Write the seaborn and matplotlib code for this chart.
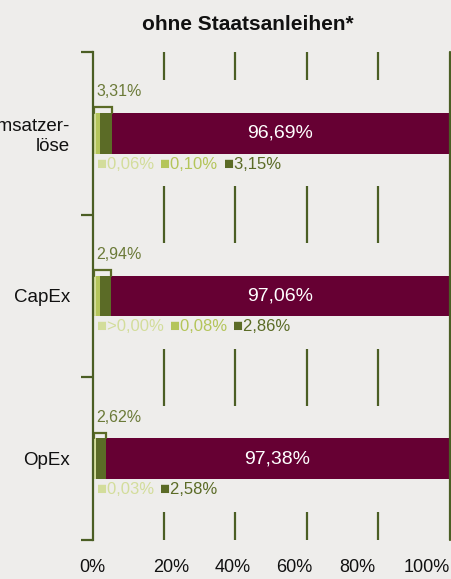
# Taxonomie-Quote ohne Staatsanleihen - gestapelte Balken

import pandas as pd
import matplotlib.pyplot as plt
import seaborn as sns


# Data (in %)
categories = ["Umsatzer-\nlöse", "CapEx", "OpEx"]
light = [0.06, 0.001, 0.03]      # CapEx shown as ">0,00%"
medium = [0.10, 0.08, 0.0]
dark = [3.15, 2.86, 2.58]
maroon = [96.69, 97.06, 97.38]
green_total = [3.31, 2.94, 2.62]
tick_labels = ["0%", "20%", "40%", "60%", "80%", "100%"]
grid_at = [20, 40, 60, 80]


# Colours
bg = "#eeedeb"
c_light = "#d3dd9b"
c_medium = "#b4c55a"
c_dark = "#5b6b26"
c_maroon = "#660033"
c_axis = "#4b5e24"
c_label = "#6b7a38"


def pct(v):
    if v < 0.005:
        return ">0,00%"
    return f"{v:.2f}".replace(".", ",") + "%"


# tiny segments get a minimum visible width, like in the original chart
def shown(v):
    return max(v, 1.1) if v > 0 else 0.0


df = pd.DataFrame({"category": categories})
df["light"] = [shown(v) for v in light]
df["medium"] = df["light"] + [shown(v) for v in medium]
df["dark"] = df["medium"] + dark
df["maroon"] = df["dark"] + maroon


sns.set_theme(style="white")
plt.rcParams["font.family"] = ["Liberation Sans", "DejaVu Sans"]

fig = plt.figure(figsize=(4.51, 5.79), dpi=100, facecolor=bg)
ax = fig.add_axes([92.5 / 451, 1 - 540 / 579, 357 / 451, 488 / 579])
ax.set_facecolor(bg)

# stacked bars: draw the cumulative sums from the back to the front
for col, colour in [("maroon", c_maroon), ("dark", c_dark),
                    ("medium", c_medium), ("light", c_light)]:
    sns.barplot(data=df, x=col, y="category", color=colour, width=0.25,
                saturation=1, errorbar=None, orient="h", ax=ax,
                linewidth=0, edgecolor="none")

ax.set_xlim(0, 100)
ax.set_ylim(2.5, -0.5)
ax.set_xlabel("")
ax.set_ylabel("")

# axis styling
for s in ["top", "right", "bottom"]:
    ax.spines[s].set_visible(False)
ax.spines["left"].set_color(c_axis)
ax.spines["left"].set_linewidth(1.6)
ax.spines["left"].set_zorder(5)

ax.set_yticks([-0.5, 0.5, 1.5, 2.5], minor=True)
ax.tick_params(axis="y", which="minor", length=9, width=1.6, color=c_axis, left=True)
ax.tick_params(axis="y", which="major", length=0, pad=16, labelsize=13.5, labelcolor="#111111")

label_pos = [0, 22.1, 39.3, 56.5, 74.3, 93.6]
ax.set_xticks(label_pos, tick_labels)
ax.tick_params(axis="x", length=0, pad=14, labelsize=13, labelcolor="#111111")

# short grid segments around the category boundaries
for b in [-0.5, 0.5, 1.5, 2.5]:
    ax.vlines(grid_at, b - 0.175, b + 0.175, color=c_axis, lw=1.6)
ax.axvline(100, color=c_axis, lw=1.6, clip_on=False)

# labels
for i in range(len(categories)):
    green_end = df.loc[i, "dark"]
    ax.text((green_end + 100) / 2, i, pct(maroon[i]), color="white",
            ha="center", va="center", fontsize=14)

    ax.text(1.0, i - 0.255, pct(green_total[i]), color=c_label,
            ha="left", va="center", fontsize=11.5)

    # bracket over the green part
    ax.plot([0.4, 0.4, green_end, green_end],
            [i - 0.125, i - 0.16, i - 0.16, i - 0.125],
            color=c_dark, lw=1.6, solid_joinstyle="miter")

    # small legend-like labels below the bar
    items = [(light[i], c_light), (medium[i], c_medium), (dark[i], c_dark)]
    prev = None
    for v, colour in items:
        if v <= 0:
            continue
        txt = "■" + pct(v)
        if prev is None:
            prev = ax.text(1.2, i + 0.19, txt, color=colour, ha="left",
                           va="center", fontsize=12)
        else:
            prev = ax.annotate(txt, xy=(1, 0.5), xycoords=prev,
                               xytext=(4.5, 0), textcoords="offset points",
                               color=colour, ha="left", va="center", fontsize=12)

fig.text(248 / 451, 1 - 25 / 579, "ohne Staatsanleihen*", ha="center",
         va="center", fontsize=15, fontweight="bold", color="#111111")

fig.savefig("out.png", dpi=100, facecolor=bg)
